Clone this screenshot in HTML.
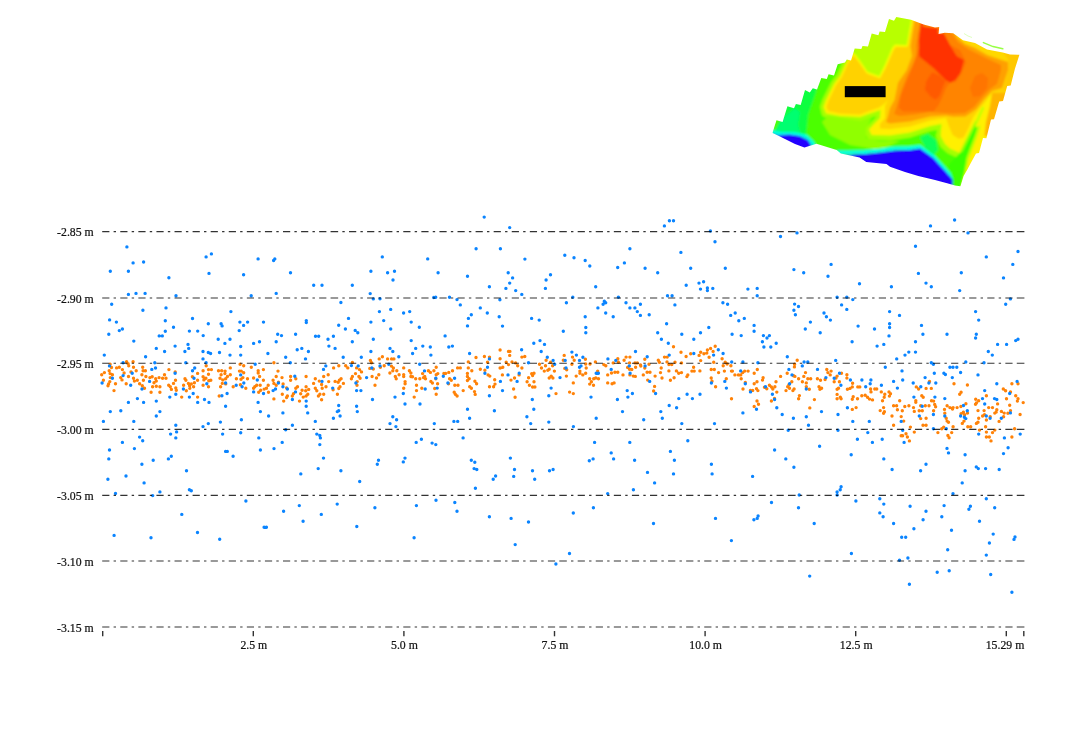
<!DOCTYPE html>
<html><head><meta charset="utf-8"><title>Profile</title>
<style>
html,body{margin:0;padding:0;background:#fff;}
body{width:1080px;height:743px;overflow:hidden;position:relative;font-family:"Liberation Serif",serif;}
svg{position:absolute;left:0;top:0;}
text{font-family:"Liberation Serif",serif;font-size:12.4px;fill:#111;stroke:#111;stroke-width:0.22px;}
</style></head><body>
<svg width="1080" height="743" viewBox="0 0 1080 743">
<defs>
<clipPath id="hmclip"><polygon points="896.3,17.0 911.0,19.7 923.6,24.5 935.0,27.6 939.2,27.0 938.6,34.0 944.7,32.8 953.2,33.3 962.9,40.2 975.0,43.0 987.0,49.5 1002.8,52.5 1010.0,54.5 1019.4,54.8 1015.0,68.5 1010.7,85.4 1007.2,86.0 1003.0,101.0 999.2,101.4 994.0,119.2 991.0,119.6 986.4,138.3 983.0,138.0 979.0,153.0 976.0,153.6 970.8,163.0 967.4,169.5 963.6,176.0 960.4,186.3 955.0,185.5 949.0,183.8 935.0,180.0 918.3,176.0 905.0,172.0 890.0,166.8 886.5,164.0 866.3,162.0 859.6,157.5 840.8,153.5 836.7,150.0 816.5,143.8 811.8,145.2 804.4,147.4 795.0,144.0 780.0,136.6 772.6,133.0 772.9,131.4 776.5,120.3 782.6,122.0 787.4,106.3 794.0,108.2 795.9,103.9 800.7,105.1 805.0,90.0 809.8,92.4 812.8,88.2 817.0,89.4 821.3,77.9 826.8,79.0 828.6,74.2 834.0,75.5 837.7,64.2 845.0,62.4 846.8,59.4 851.0,60.6 854.7,48.5 861.3,49.0 862.5,46.0 868.0,46.4 871.7,33.6 878.4,35.2 879.6,31.6 885.0,32.0 889.0,19.0 894.0,20.8"/></clipPath>
<filter id="hmblur" x="-5%" y="-5%" width="110%" height="110%"><feGaussianBlur stdDeviation="1.1"/></filter>
</defs>
<g clip-path="url(#hmclip)"><g filter="url(#hmblur)">
<polygon points="760.0,0.0 1040.0,0.0 1040.0,200.0 760.0,200.0" fill="#4cff00" />
<polygon points="760.0,140.0 770.0,140.0 790.0,100.0 812.0,84.0 822.0,70.0 815.0,95.0 808.0,115.0 806.0,135.0 815.0,142.0 800.0,150.0 760.0,150.0" fill="#10ff40" />
<polygon points="760.0,150.0 772.0,136.0 783.0,118.0 795.0,108.0 800.0,112.0 798.0,125.0 802.0,137.0 812.0,143.0 800.0,152.0" fill="#00ff70" />
<polygon points="850.0,45.0 855.0,40.0 880.0,10.0 915.0,10.0 911.5,19.7 909.0,34.2 907.0,45.7 895.1,45.1 892.7,47.5 884.2,66.9 879.4,76.5 867.3,71.8 860.0,61.0 853.5,52.0" fill="#b8ff00" />
<polyline points="853.0,53.0 846.5,62.0 840.0,76.0 834.0,84.0 829.5,93.0 826.0,100.0 823.5,107.0 825.0,113.5 840.0,117.0 860.0,118.0 870.0,114.5 880.5,111.0 879.0,119.0 873.0,125.0 868.0,130.0 870.0,136.0 890.0,137.0 910.0,134.0 930.4,127.5 941.5,125.5 939.5,136.0 943.5,145.0 949.0,150.0 960.0,155.0" fill="none" stroke="#a4ff00" stroke-width="7.0" stroke-linejoin="round" stroke-linecap="round" />
<polygon points="828.0,116.0 860.0,121.0 872.0,118.0 866.0,128.0 866.0,138.0 880.0,141.0 900.0,141.0 880.0,150.0 850.0,145.0 830.0,135.0 822.0,122.0" fill="#90ff00" />
<polyline points="770.0,131.5 780.0,133.5 795.0,134.0 806.0,136.5 812.0,142.5 814.0,146.0" fill="none" stroke="#00ffe0" stroke-width="3.6" stroke-linejoin="round" stroke-linecap="round" />
<polygon points="768.0,134.0 778.0,135.0 790.0,134.5 800.0,136.0 808.0,140.0 811.5,145.5 808.0,150.0 790.0,150.0 770.0,140.0" fill="#2200ff" />
<polyline points="838.0,152.5 850.0,152.5 865.0,152.0 880.0,150.5 895.0,148.5 910.0,148.0 920.0,147.0 933.0,156.5 944.0,168.5 953.0,178.5 955.0,186.0" fill="none" stroke="#00ffe0" stroke-width="3.8" stroke-linejoin="round" stroke-linecap="round" />
<polygon points="920.0,137.0 928.0,134.0 936.0,140.0 938.0,150.0 934.0,155.0 925.0,147.5" fill="#10ff58" />
<polygon points="842.0,156.0 855.0,154.5 866.0,154.0 880.0,152.5 895.0,150.5 910.0,150.0 920.0,148.5 933.3,158.0 944.2,170.0 952.7,179.5 952.5,190.0 840.0,190.0" fill="#2200ff" />
<polygon points="853.0,53.0 846.5,62.0 840.0,76.0 834.0,84.0 829.5,93.0 826.0,100.0 823.5,107.0 826.0,113.5 840.0,116.0 860.0,117.0 870.0,113.5 880.5,110.0 880.0,118.0 874.0,124.0 869.0,129.5 871.5,135.0 890.0,135.5 910.0,132.5 930.4,126.0 941.5,124.0 940.6,136.0 945.0,144.0 950.0,148.6 960.0,153.0 962.0,170.0 958.0,190.0 1040.0,190.0 1040.0,10.0 911.5,10.0 911.5,19.7 909.0,34.2 907.0,45.7 895.1,45.1 892.7,47.5 884.2,66.9 879.4,76.5 867.3,71.8 860.0,61.0" fill="#fff000" />
<polygon points="960.0,153.0 964.0,145.0 968.5,137.5 973.0,129.0 976.0,126.0 977.5,128.0 974.5,138.0 970.5,148.0 967.0,158.0 965.0,172.7 961.5,190.0 953.0,190.0 952.7,179.0 948.0,165.0" fill="#38ff00" />
<polyline points="961.5,151.0 966.0,142.0 971.0,132.0 976.0,122.0" fill="none" stroke="#9cff00" stroke-width="2.5" stroke-linejoin="round" stroke-linecap="round" />
<polyline points="976.0,124.0 980.0,114.5 983.0,108.0" fill="none" stroke="#c0ff00" stroke-width="2.4" stroke-linejoin="round" stroke-linecap="round" />
<polyline points="961.8,188.0 965.5,172.0 967.8,158.0 971.5,148.0 976.0,136.0 979.0,127.0" fill="none" stroke="#b8ff00" stroke-width="2.5" stroke-linejoin="round" stroke-linecap="round" />
<polygon points="853.5,55.5 848.0,63.5 842.0,77.0 836.0,85.5 832.0,94.0 828.5,101.0 826.5,107.0 828.5,111.0 840.0,113.5 860.0,114.5 869.0,111.0 879.0,107.5 884.0,104.0 888.0,100.0 890.3,100.0 894.0,82.7 902.4,70.6 908.5,56.0 906.6,47.0 895.8,47.0 894.0,49.5 885.5,68.5 880.0,78.5 867.0,73.8 859.5,63.3" fill="#ffd200" />
<polygon points="912.0,21.0 910.0,34.0 906.0,47.0 905.0,56.0 899.0,70.6 891.0,82.7 888.0,100.0 885.0,106.0 885.0,118.0 880.0,124.0 880.0,128.5 890.0,129.0 910.0,126.5 930.0,120.5 946.0,118.0 949.0,126.6 952.7,135.0 958.8,138.8 963.6,137.5 968.5,127.9 973.3,117.0 980.0,108.0 986.0,101.0 992.0,93.0 1040.0,93.0 1040.0,10.0 912.0,10.0" fill="#ffd200" />
<polygon points="992.0,93.0 1040.0,93.0 1040.0,140.0 984.0,140.0 986.0,122.0 990.0,106.0" fill="#ffb400" />
<polygon points="984.0,136.0 1000.0,136.0 1000.0,190.0 962.0,190.0 966.0,172.0 969.0,158.0 976.0,142.0" fill="#fff000" />
<polygon points="958.0,30.0 1030.0,48.0 1030.0,62.0 1012.0,62.0 1000.0,59.0 987.0,54.5 975.0,47.5 965.0,43.5 957.0,36.0" fill="#ffd800" />
<polygon points="1003.0,52.0 1030.0,52.0 1030.0,90.0 1004.0,90.0 1008.0,70.0 1008.5,60.0" fill="#ffc800" />
<polyline points="911.8,19.7 909.3,34.2 907.3,45.9 895.3,45.3 893.0,47.8 884.6,67.2 879.6,77.0 867.2,72.4 859.8,61.6 853.6,53.0" fill="none" stroke="#f6ff00" stroke-width="1.5" stroke-linejoin="round" stroke-linecap="round" />
<polygon points="914.5,21.5 912.5,34.0 910.5,46.0 912.0,56.0 906.5,70.6 898.0,82.7 894.5,100.0 890.0,108.0 888.0,116.0 886.0,122.0 890.0,123.5 910.0,121.5 930.0,116.5 946.0,115.5 953.0,116.8 965.4,116.5 976.0,109.5 984.0,99.5 992.0,91.0 1002.0,88.0 1008.0,70.0 1008.0,62.0 1000.0,59.5 987.0,55.0 975.0,48.0 965.0,44.0 957.0,37.0 955.0,30.0 914.0,10.0" fill="#ffa000" />
<polygon points="920.0,23.0 917.5,34.0 916.0,46.0 916.5,56.0 912.0,66.0 907.0,76.0 902.0,88.0 898.5,100.0 896.0,108.0 894.0,114.0 900.0,116.0 915.0,114.5 930.0,112.0 944.0,113.0 953.0,113.5 965.0,113.0 974.0,107.0 982.0,97.5 990.0,89.0 997.0,84.0 1001.0,70.0 1001.0,65.0 990.0,60.0 978.0,54.0 968.0,49.0 958.0,42.0 952.0,33.0 935.0,25.0 925.0,22.0" fill="#ff8400" />
<polygon points="918.0,50.0 914.0,63.0 909.2,75.3 900.7,95.9 898.8,108.0 903.2,111.5 933.4,111.5 938.3,105.6 942.0,98.0 946.0,88.0 950.0,82.5 956.0,82.0 962.0,72.0 966.0,62.0 960.0,50.0 940.0,40.0 925.0,40.0" fill="#ff7000" />
<polygon points="975.0,76.0 982.0,73.0 988.0,78.0 987.0,88.0 980.0,96.0 973.0,97.0 970.0,88.0" fill="#ff7400" />
<polygon points="932.2,72.3 926.2,81.3 925.0,89.8 931.0,97.0 935.9,99.5 939.5,95.9 943.1,86.2 945.5,81.0 940.0,76.0" fill="#ff5a00" />
<polygon points="922.5,24.5 923.0,26.4 938.7,28.2 937.5,33.0 944.0,33.5 950.0,45.0 956.8,56.3 964.0,60.0 962.5,66.0 960.4,73.3 955.3,80.0 950.4,82.7 945.6,80.0 933.4,68.0 919.2,56.5 918.8,40.3 920.0,30.0 921.0,22.0 930.0,20.0 940.0,22.0" fill="#ff3300" />
</g></g>
<polyline points="983.4,42.6 993,46.6 1002.8,48.8" fill="none" stroke="#86ff24" stroke-width="1.5" stroke-linecap="round" opacity="0.85"/>
<polyline points="964,33.5 968,36 972,37.5" fill="none" stroke="#b8ff70" stroke-width="0.9" opacity="0.5"/>
<rect x="844.8" y="86.1" width="40.8" height="11.1" fill="#000"/>
<g id="pts">
<path d="M101.7 374.7h0M104.4 372.6h0M103.4 380.3h0M110.1 364.2h0M109.2 370.7h0M111.5 367.5h0M110.1 373.6h0M112.4 374.7h0M110.3 377.6h0M109.8 381.6h0M108.6 383.9h0M108.0 385.7h0M115.5 383.7h0M114.0 390.6h0M116.6 367.9h0M119.3 367.3h0M122.4 369.6h0M124.1 373.0h0M120.7 377.6h0M122.0 379.9h0M126.6 361.8h0M128.1 363.8h0M128.7 365.8h0M128.5 376.5h0M126.2 383.7h0M131.0 371.9h0M133.1 361.8h0M133.5 367.3h0M136.2 370.7h0M133.5 378.2h0M134.4 381.1h0M137.3 380.3h0M139.6 383.7h0M142.7 367.3h0M143.1 370.7h0M145.4 370.7h0M141.9 374.7h0M145.9 376.5h0M143.4 380.3h0M142.3 385.7h0M144.5 388.3h0M149.9 377.6h0M152.2 376.8h0M151.1 392.2h0M152.6 386.8h0M154.0 382.8h0M155.7 378.8h0M156.3 381.1h0M156.3 386.2h0M159.1 377.6h0M159.9 386.8h0M159.9 392.2h0M162.6 378.2h0M164.5 374.7h0M166.0 378.2h0M168.9 369.6h0M168.7 385.3h0M170.3 386.8h0M171.4 389.4h0M173.5 383.4h0M175.2 371.9h0M175.5 380.3h0M175.8 387.9h0M176.3 390.2h0M181.7 397.1h0M183.6 385.3h0M185.0 378.8h0M185.9 380.3h0M186.3 390.8h0M188.4 383.4h0M189.6 385.7h0M189.8 388.3h0M191.3 383.9h0M192.4 376.8h0M193.6 386.8h0M194.4 382.8h0M197.6 373.4h0M197.6 380.3h0M197.6 397.1h0M203.1 370.7h0M203.1 376.8h0M203.9 379.9h0M203.1 385.3h0M206.2 365.8h0M205.9 378.2h0M208.5 369.6h0M208.5 374.2h0M208.8 380.7h0M208.5 386.8h0M210.8 380.3h0M211.4 369.6h0M218.5 370.7h0M221.7 370.7h0M221.1 374.7h0M220.0 378.2h0M222.8 379.9h0M222.3 383.4h0M220.6 386.8h0M219.2 396.0h0M225.1 371.1h0M224.9 373.6h0M227.4 376.5h0M225.7 378.8h0M230.3 367.9h0M230.3 374.7h0M225.7 383.9h0M233.2 386.8h0M236.4 378.8h0M240.1 364.2h0M239.5 371.1h0M241.2 371.1h0M243.7 365.8h0M243.7 372.7h0M242.9 377.6h0M241.0 379.3h0M240.4 384.8h0M247.5 378.8h0M245.8 388.3h0M251.3 367.3h0M253.6 378.0h0M258.2 370.7h0M258.2 373.0h0M259.6 376.5h0M263.4 369.6h0M263.4 380.3h0M254.8 386.8h0M256.7 385.3h0M253.6 388.3h0M260.2 385.3h0M260.7 390.2h0M258.7 392.2h0M264.2 389.1h0M266.5 388.3h0M268.2 385.3h0M268.5 392.2h0M273.9 362.7h0M278.0 371.1h0M276.2 376.5h0M273.1 380.3h0M273.9 383.4h0M276.2 385.3h0M278.5 382.2h0M282.0 377.6h0M283.1 383.9h0M286.6 387.9h0M273.9 398.9h0M282.3 394.3h0M283.7 401.1h0M287.4 396.0h0M286.6 397.5h0M290.6 376.5h0M290.6 380.3h0M295.8 378.8h0M297.5 386.8h0M295.8 388.3h0M293.5 393.7h0M292.3 396.0h0M299.5 401.1h0M302.1 390.2h0M300.7 393.7h0M303.2 397.1h0M306.1 376.5h0M306.1 386.8h0M308.7 389.4h0M305.7 390.8h0M307.8 394.3h0M306.1 396.0h0M315.3 378.8h0M313.6 383.4h0M319.3 381.1h0M315.3 388.3h0M316.8 390.8h0M321.6 384.5h0M322.2 388.3h0M326.0 386.8h0M319.9 394.3h0M318.4 396.0h0M323.7 394.3h0M321.6 399.8h0M323.7 376.5h0M328.2 374.7h0M328.7 381.6h0M333.6 367.9h0M338.8 365.8h0M345.7 365.8h0M347.8 367.9h0M335.1 381.4h0M341.1 378.8h0M339.4 380.3h0M338.2 382.2h0M343.4 383.4h0M340.0 386.8h0M338.8 388.5h0M333.1 389.7h0M337.4 394.3h0M352.4 362.5h0M356.6 367.9h0M355.5 373.6h0M352.4 376.5h0M351.4 378.8h0M359.5 369.6h0M361.5 371.9h0M358.9 376.5h0M360.1 378.2h0M357.2 381.6h0M357.0 385.3h0M370.4 360.4h0M371.5 362.7h0M369.8 368.4h0M373.3 369.0h0M372.1 376.5h0M376.5 378.0h0M378.8 374.7h0M375.0 385.3h0M379.2 358.9h0M382.4 356.7h0M380.4 367.3h0M384.2 365.8h0M387.6 358.9h0M391.6 358.9h0M393.9 358.9h0M391.4 366.1h0M393.4 367.9h0M392.8 370.7h0M389.9 373.0h0M396.8 370.7h0M399.1 374.7h0M395.3 376.5h0M396.2 378.8h0M403.7 367.9h0M403.7 374.7h0M403.7 376.5h0M405.1 381.6h0M405.1 383.7h0M403.7 388.3h0M409.4 370.7h0M410.9 373.0h0M410.9 376.5h0M412.5 376.8h0M415.7 378.8h0M416.5 385.3h0M416.5 390.6h0M414.2 397.1h0M419.8 378.8h0M422.6 373.6h0M423.5 377.6h0M425.5 378.8h0M424.7 376.5h0M421.8 388.3h0M428.4 370.7h0M430.4 372.4h0M430.9 381.4h0M432.4 383.0h0M433.9 370.7h0M436.2 367.3h0M437.8 373.6h0M436.2 374.7h0M435.8 378.8h0M437.6 383.7h0M434.7 388.5h0M436.2 394.3h0M443.9 373.4h0M445.6 373.4h0M448.8 372.4h0M452.5 370.7h0M449.6 378.8h0M451.3 380.3h0M448.5 383.7h0M454.8 385.3h0M458.0 385.3h0M457.6 367.9h0M460.3 367.9h0M454.2 392.2h0M455.3 394.3h0M457.1 396.0h0M463.2 390.6h0M468.3 361.9h0M468.3 367.9h0M467.4 373.4h0M467.4 376.5h0M469.1 378.8h0M467.4 380.5h0M469.7 386.8h0M471.4 388.3h0M471.8 370.7h0M476.0 357.5h0M484.4 356.5h0M489.5 357.1h0M487.5 362.3h0M480.3 369.2h0M484.9 370.3h0M488.1 374.9h0M489.8 376.1h0M474.9 381.2h0M476.6 383.8h0M474.5 391.6h0M475.2 394.4h0M494.7 379.8h0M495.0 384.1h0M489.5 386.7h0M493.6 386.7h0M500.1 350.0h0M500.1 358.8h0M500.1 368.0h0M502.8 367.2h0M502.4 374.9h0M506.2 362.3h0M508.5 364.6h0M508.5 351.4h0M509.9 351.4h0M509.7 355.4h0M512.0 361.9h0M515.6 362.9h0M517.7 365.7h0M521.9 368.0h0M519.1 374.9h0M514.5 378.0h0M511.0 380.1h0M513.6 389.0h0M515.1 397.3h0M521.9 357.1h0M524.8 356.5h0M531.7 373.8h0M534.0 373.2h0M532.6 375.5h0M528.6 377.8h0M527.1 381.8h0M534.0 381.8h0M529.4 385.2h0M532.6 387.0h0M534.9 387.0h0M539.5 364.2h0M541.5 368.0h0M544.3 371.1h0M545.5 365.7h0M547.8 370.3h0M549.2 369.2h0M546.1 360.3h0M550.6 362.3h0M552.6 365.7h0M554.4 371.1h0M551.2 376.1h0M549.2 378.0h0M552.9 378.0h0M556.0 393.6h0M564.2 355.4h0M563.3 360.3h0M564.8 368.4h0M566.7 369.7h0M566.4 376.1h0M572.5 357.1h0M574.2 360.3h0M571.9 364.2h0M573.3 382.9h0M569.6 392.1h0M573.3 393.6h0M576.2 376.1h0M579.9 371.1h0M579.9 373.2h0M582.8 374.9h0M585.7 373.2h0M586.2 368.0h0M585.7 364.0h0M585.4 359.2h0M590.0 364.0h0M595.4 361.9h0M589.7 378.7h0M593.7 378.7h0M595.8 378.0h0M591.4 381.8h0M589.7 384.1h0M593.5 385.2h0M603.8 364.6h0M605.8 365.7h0M597.7 371.1h0M598.5 378.7h0M607.7 374.9h0M607.7 382.9h0M612.1 383.8h0M614.1 382.9h0M611.5 373.0h0M614.9 372.3h0M617.8 372.3h0M613.2 362.9h0M617.8 358.8h0M618.4 362.3h0M623.0 374.9h0M624.1 360.3h0M626.1 357.1h0M629.9 357.1h0M629.5 362.9h0M627.6 367.4h0M629.5 369.2h0M631.8 369.5h0M635.6 367.2h0M635.0 362.9h0M637.3 362.9h0M640.5 364.9h0M640.8 366.1h0M629.9 374.9h0M633.3 376.1h0M635.3 376.4h0M643.3 374.9h0M644.8 359.2h0M644.8 368.0h0M647.1 372.3h0M650.0 372.3h0M649.0 364.2h0M647.7 380.1h0M655.1 376.1h0M654.6 386.4h0M653.6 391.0h0M658.3 360.3h0M659.4 362.3h0M661.2 368.0h0M660.5 372.6h0M662.0 378.0h0M664.5 357.1h0M667.2 357.1h0M667.0 361.9h0M668.9 364.6h0M671.8 364.6h0M668.9 370.9h0M670.4 380.3h0M674.1 377.8h0M673.5 346.8h0M675.0 362.3h0M676.4 370.9h0M678.7 373.2h0M681.5 372.6h0M681.5 362.9h0M681.0 352.3h0M686.1 356.5h0M690.7 353.7h0M687.8 374.9h0M686.9 376.6h0M693.6 367.2h0M691.9 371.1h0M694.2 371.1h0M699.9 370.9h0M700.7 360.6h0M699.1 355.4h0M700.7 352.3h0M703.9 353.7h0M706.8 353.1h0M707.4 350.0h0M710.6 348.5h0M715.2 346.2h0M713.1 351.4h0M709.1 357.3h0M713.7 362.3h0M711.2 369.5h0M714.3 369.5h0M718.6 372.6h0M711.2 378.0h0M712.0 381.2h0M715.6 386.7h0M722.1 358.8h0M725.2 362.3h0M723.2 365.7h0M727.1 364.0h0M730.9 365.7h0M724.4 371.1h0M731.5 371.1h0M732.4 371.1h0M734.9 374.9h0M738.4 374.9h0M740.7 374.9h0M742.7 372.6h0M744.7 371.1h0M748.1 371.1h0M741.2 378.7h0M726.3 378.7h0M754.2 373.2h0M757.3 369.5h0M763.1 377.8h0M762.5 380.1h0M757.0 381.8h0M754.2 383.8h0M745.3 382.4h0M743.0 389.0h0M750.4 390.4h0M752.7 390.4h0M756.5 388.7h0M757.9 390.6h0M731.5 398.7h0M757.0 401.0h0M758.5 404.2h0M754.2 406.5h0M764.5 387.2h0M766.8 388.7h0M769.4 385.2h0M771.4 387.0h0M772.8 389.0h0M774.9 386.7h0M776.0 381.8h0M776.8 392.1h0M771.4 401.0h0M774.5 398.4h0M780.6 376.4h0M787.2 373.2h0M794.9 376.4h0M793.5 375.7h0M791.8 381.8h0M788.9 384.7h0M787.7 386.7h0M789.5 388.3h0M786.0 390.6h0M792.9 390.6h0M794.1 389.0h0M794.4 366.9h0M794.6 364.2h0M797.2 360.3h0M798.6 378.7h0M802.4 381.8h0M803.8 376.4h0M805.5 372.6h0M807.8 378.7h0M810.7 378.7h0M806.3 382.9h0M806.3 386.7h0M809.3 389.3h0M799.4 395.6h0M798.6 398.7h0M809.8 407.9h0M814.4 399.6h0M817.4 378.7h0M820.5 380.3h0M819.0 386.7h0M821.6 388.3h0M819.9 389.3h0M825.1 379.5h0M826.8 369.5h0M827.9 372.6h0M831.1 371.1h0M830.2 374.9h0M834.2 381.8h0M836.0 378.0h0M837.1 376.1h0M841.5 373.2h0M839.4 381.8h0M838.5 388.3h0M837.1 389.3h0M837.1 394.4h0M837.1 398.7h0M840.3 397.3h0M841.1 398.7h0M846.9 374.7h0M846.9 378.1h0M852.6 383.3h0M852.3 386.9h0M850.0 388.4h0M847.4 389.2h0M857.8 386.9h0M859.8 386.9h0M853.2 396.8h0M852.3 399.3h0M857.5 398.8h0M861.8 395.7h0M865.2 395.3h0M867.5 397.3h0M869.5 399.1h0M872.5 399.9h0M852.3 409.4h0M856.1 407.6h0M870.6 389.0h0M871.0 391.9h0M874.8 389.0h0M876.7 389.0h0M881.3 391.9h0M884.8 394.2h0M884.2 397.3h0M882.5 400.7h0M889.0 391.9h0M890.5 393.8h0M889.4 396.1h0M883.6 407.6h0M880.2 410.6h0M884.4 411.7h0M883.6 413.3h0M892.0 416.0h0M893.6 425.2h0M893.6 405.7h0M896.6 405.7h0M897.4 409.7h0M899.7 400.7h0M902.3 410.8h0M904.8 406.5h0M908.9 405.7h0M901.2 416.6h0M903.7 421.1h0M910.4 427.1h0M901.2 435.7h0M902.6 435.7h0M906.0 433.8h0M907.4 437.0h0M909.4 440.9h0M914.3 432.1h0M913.5 407.6h0M914.3 411.4h0M915.8 400.7h0M915.8 402.2h0M916.3 386.9h0M918.6 389.0h0M921.8 395.7h0M923.2 397.3h0M920.7 405.7h0M919.2 410.8h0M922.3 410.8h0M925.3 405.7h0M929.0 405.7h0M920.7 418.6h0M926.1 418.3h0M923.0 425.2h0M926.1 425.2h0M926.1 388.4h0M931.3 388.4h0M929.5 381.5h0M931.5 400.7h0M933.6 401.1h0M934.7 404.5h0M935.6 406.8h0M933.6 410.8h0M944.5 409.4h0M944.8 413.3h0M947.1 405.7h0M949.9 407.6h0M952.5 409.1h0M953.1 407.6h0M957.1 407.6h0M960.9 406.5h0M965.9 403.7h0M946.2 418.3h0M947.1 421.1h0M948.5 422.3h0M943.7 427.1h0M941.8 428.8h0M937.9 432.6h0M953.1 426.7h0M951.7 432.6h0M947.9 435.5h0M949.1 437.8h0M954.0 383.8h0M961.1 392.2h0M959.7 394.2h0M967.4 385.0h0M963.4 412.2h0M961.1 413.7h0M964.6 414.8h0M964.0 421.1h0M962.3 423.4h0M967.8 426.7h0M967.5 413.1h0M970.7 426.7h0M975.7 399.3h0M978.7 400.7h0M976.4 403.0h0M975.5 404.2h0M978.0 410.6h0M978.7 418.3h0M978.0 422.3h0M976.4 423.4h0M979.5 430.1h0M986.4 395.7h0M984.1 410.6h0M988.7 407.6h0M992.5 407.6h0M982.6 416.0h0M984.5 414.8h0M990.2 416.6h0M986.4 420.0h0M985.6 426.7h0M986.4 432.1h0M986.4 437.0h0M989.3 437.0h0M991.0 440.9h0M992.5 432.6h0M994.8 430.1h0M997.6 403.9h0M996.8 409.7h0M996.2 412.0h0M994.8 413.1h0M999.1 421.4h0M1001.4 411.4h0M1004.2 413.1h0M1003.6 416.8h0M1007.9 413.3h0M1010.5 410.6h0M1009.7 405.3h0M1006.5 398.8h0M1003.3 389.0h0M1005.6 390.7h0M1010.5 391.9h0M1011.9 383.8h0M1018.0 383.8h0M1015.7 395.7h0M1018.0 398.8h0M1017.4 401.1h0M1023.2 402.6h0M1020.1 414.5h0M1014.6 428.8h0M1011.9 437.0h0" stroke="#ff8208" stroke-width="3.40" stroke-linecap="round" fill="none"/>
<path d="M126.9 246.9h0M211.4 253.9h0M206.1 256.9h0M258.1 258.9h0M274.8 258.9h0M273.6 260.5h0M133.1 262.9h0M143.6 262.0h0M110.3 271.2h0M128.4 271.3h0M209.0 273.4h0M243.6 274.8h0M168.9 277.7h0M128.4 294.4h0M136.0 293.4h0M145.1 293.4h0M276.2 293.4h0M176.0 295.8h0M251.2 295.8h0M111.7 304.2h0M166.0 307.9h0M142.9 310.3h0M230.9 311.6h0M192.5 318.5h0M109.6 319.9h0M116.4 322.1h0M165.3 320.8h0M208.3 323.7h0M221.1 323.7h0M222.1 325.9h0M239.9 322.1h0M247.6 322.1h0M263.5 322.1h0M243.6 325.4h0M173.5 327.3h0M122.4 329.0h0M119.3 330.6h0M165.3 331.3h0M189.4 331.1h0M197.7 331.1h0M239.2 330.6h0M108.8 334.2h0M159.2 335.9h0M162.3 335.9h0M203.2 335.6h0M277.7 334.2h0M281.5 335.6h0M382.3 256.9h0M427.7 258.9h0M290.5 272.7h0M370.9 271.2h0M387.6 272.7h0M394.5 271.2h0M438.1 272.7h0M467.5 276.3h0M393.0 280.0h0M313.7 285.3h0M322.0 285.3h0M352.3 285.3h0M370.2 293.6h0M373.3 298.9h0M380.0 298.7h0M433.8 297.5h0M435.7 297.3h0M449.5 297.3h0M457.0 299.6h0M340.9 302.5h0M460.3 304.9h0M379.4 311.6h0M390.7 309.4h0M403.6 313.0h0M409.7 311.6h0M471.3 314.7h0M348.5 318.4h0M468.4 318.4h0M306.3 320.6h0M306.3 322.5h0M370.9 322.1h0M383.7 320.6h0M411.2 322.1h0M338.7 325.2h0M467.5 325.9h0M419.3 327.3h0M345.4 329.0h0M390.7 329.0h0M355.2 330.4h0M357.8 332.7h0M295.6 334.2h0M445.1 335.9h0M315.5 336.3h0M318.7 336.3h0M333.4 336.3h0M484.2 217.1h0M509.7 227.6h0M476.1 248.8h0M500.4 248.8h0M629.9 248.8h0M564.8 255.3h0M574.0 257.7h0M524.9 259.1h0M585.2 260.5h0M589.8 266.0h0M624.4 262.9h0M617.7 267.5h0M645.1 268.2h0M657.7 272.7h0M508.2 272.7h0M512.6 277.9h0M550.5 274.8h0M546.1 280.0h0M509.7 283.1h0M489.4 286.8h0M505.9 288.4h0M545.4 288.4h0M595.7 286.8h0M515.7 290.6h0M521.8 294.4h0M572.8 297.3h0M618.4 297.3h0M499.9 299.8h0M566.4 302.7h0M604.3 301.3h0M605.7 302.7h0M603.1 304.2h0M626.0 302.7h0M640.4 304.2h0M480.3 307.9h0M597.9 307.9h0M629.9 307.9h0M634.9 307.9h0M487.3 313.0h0M605.7 313.0h0M637.3 311.6h0M640.4 315.4h0M649.2 314.7h0M499.2 316.8h0M585.2 316.8h0M613.2 316.8h0M531.6 318.4h0M539.2 320.1h0M502.5 326.1h0M585.8 327.5h0M563.3 331.3h0M585.8 332.7h0M657.7 332.7h0M669.4 220.7h0M673.5 220.7h0M664.4 225.9h0M710.4 231.0h0M797.0 232.9h0M780.5 236.5h0M715.0 241.7h0M680.9 252.4h0M831.1 264.4h0M690.7 268.2h0M725.3 268.2h0M793.9 269.6h0M803.7 272.7h0M828.0 276.3h0M703.6 281.7h0M699.0 283.1h0M686.2 285.3h0M700.5 289.1h0M707.4 288.0h0M707.4 290.6h0M712.8 288.4h0M747.9 289.1h0M757.2 288.4h0M667.5 295.8h0M672.1 295.8h0M757.2 295.8h0M837.1 297.3h0M674.9 304.9h0M722.9 302.7h0M727.6 304.2h0M794.6 304.1h0M798.5 306.5h0M841.6 304.9h0M793.9 310.3h0M735.2 313.0h0M824.0 313.0h0M730.7 315.4h0M795.4 314.7h0M826.4 316.8h0M744.3 318.4h0M738.8 320.8h0M830.4 320.1h0M666.6 323.7h0M810.4 322.1h0M754.1 325.4h0M708.8 327.5h0M805.3 329.0h0M754.1 331.3h0M700.5 332.7h0M820.2 332.7h0M681.8 334.2h0M732.1 334.2h0M741.2 335.6h0M763.4 335.6h0M769.4 335.6h0M954.6 220.0h0M930.5 225.9h0M968.0 232.9h0M915.5 246.2h0M1018.0 251.5h0M986.3 256.9h0M1012.8 264.4h0M918.4 273.4h0M961.3 272.7h0M1003.5 277.9h0M859.5 283.7h0M926.0 283.1h0M891.4 286.8h0M931.3 286.8h0M959.7 290.6h0M846.8 297.3h0M852.8 299.6h0M1010.4 298.9h0M1005.7 304.2h0M846.8 309.4h0M889.6 311.6h0M975.6 311.6h0M899.5 315.4h0M978.7 320.1h0M889.6 323.7h0M921.5 325.4h0M858.1 326.1h0M889.6 327.5h0M874.5 329.0h0M922.9 334.2h0M947.0 334.2h0M976.3 334.2h0M889.0 335.9h0M141.9 464.3h0M186.5 470.8h0M126.0 476.0h0M107.9 479.3h0M144.1 482.9h0M189.4 489.8h0M191.3 490.7h0M115.5 493.4h0M159.9 491.9h0M152.7 495.6h0M245.9 501.0h0M283.6 511.3h0M181.8 514.4h0M264.1 527.3h0M266.4 527.3h0M197.5 532.5h0M114.1 535.4h0M151.0 537.8h0M219.7 539.2h0M377.3 464.3h0M318.2 468.6h0M340.9 470.8h0M300.8 473.9h0M359.7 481.5h0M436.0 500.3h0M454.8 502.5h0M299.3 505.6h0M337.2 504.1h0M416.4 505.6h0M374.9 507.7h0M457.0 511.3h0M321.3 514.4h0M303.1 521.3h0M356.8 526.5h0M414.1 537.8h0M474.1 468.6h0M476.8 469.5h0M514.5 469.5h0M532.5 470.8h0M549.5 470.8h0M553.1 469.5h0M647.5 472.4h0M495.6 476.0h0M513.7 476.4h0M493.2 479.3h0M534.7 479.3h0M654.6 482.9h0M475.4 488.2h0M633.4 489.8h0M607.7 493.6h0M593.4 507.7h0M573.3 513.0h0M489.4 516.7h0M511.1 518.4h0M528.5 522.0h0M653.5 523.5h0M515.2 544.6h0M569.5 553.5h0M555.9 564.0h0M711.4 464.3h0M793.9 467.2h0M673.5 473.9h0M712.1 473.9h0M752.6 476.4h0M841.1 486.7h0M840.2 489.8h0M837.1 492.0h0M837.1 495.0h0M799.2 495.0h0M771.5 502.5h0M798.5 507.7h0M715.5 518.4h0M758.1 516.0h0M757.2 518.4h0M753.9 519.8h0M814.2 523.5h0M731.4 540.6h0M809.7 576.1h0M926.0 464.3h0M976.3 466.9h0M978.3 468.6h0M985.6 468.6h0M999.2 469.5h0M892.1 469.5h0M920.6 470.8h0M965.1 470.8h0M962.2 482.9h0M953.0 493.6h0M855.9 501.0h0M879.8 498.7h0M986.3 498.7h0M883.8 504.1h0M910.1 506.3h0M944.1 505.6h0M970.4 506.3h0M968.9 509.3h0M994.7 507.7h0M926.0 511.3h0M879.8 512.9h0M883.1 516.7h0M941.8 516.7h0M923.1 519.8h0M979.5 521.3h0M893.6 523.5h0M913.9 528.7h0M951.5 530.3h0M993.2 534.1h0M1015.0 537.0h0M1014.0 539.4h0M901.7 537.2h0M905.7 537.2h0M989.4 543.0h0M947.7 549.7h0M851.4 553.5h0M986.3 555.1h0M907.9 558.0h0M899.5 560.2h0M937.2 572.3h0M949.2 570.7h0M990.7 574.5h0M909.4 584.3h0M1011.9 592.3h0M133.8 341.1h0M218.2 339.2h0M230.0 339.2h0M224.9 343.4h0M253.6 343.4h0M259.5 341.8h0M276.2 341.8h0M175.1 346.1h0M188.0 344.4h0M188.7 348.4h0M240.7 346.5h0M156.3 348.4h0M164.6 351.5h0M184.9 351.5h0M203.0 351.5h0M208.3 352.5h0M210.6 353.5h0M219.5 352.5h0M230.0 355.1h0M240.7 355.1h0M267.9 353.5h0M104.3 355.1h0M145.6 356.8h0M203.0 358.9h0M285.7 357.3h0M123.1 362.7h0M154.8 362.7h0M185.8 362.7h0M206.1 362.7h0M255.2 364.2h0M109.5 365.9h0M155.5 368.0h0M151.8 369.4h0M194.7 368.0h0M192.5 370.7h0M132.2 373.2h0M175.1 373.2h0M123.1 375.6h0M240.7 374.9h0M112.4 378.3h0M194.0 378.3h0M257.3 380.0h0M102.1 383.0h0M149.6 381.4h0M206.8 383.7h0M225.6 383.0h0M278.4 383.0h0M243.8 383.0h0M130.7 385.2h0M236.2 385.2h0M242.1 386.8h0M282.9 386.8h0M142.0 389.0h0M183.4 389.0h0M275.5 389.0h0M273.1 390.6h0M253.6 391.9h0M227.1 393.5h0M263.5 393.5h0M193.2 393.5h0M175.8 394.3h0M221.9 395.7h0M169.8 397.1h0M189.4 397.1h0M137.4 398.6h0M204.5 399.5h0M156.3 401.1h0M128.4 402.4h0M143.6 402.4h0M197.7 402.4h0M209.0 402.4h0M258.1 402.4h0M225.6 406.2h0M110.3 411.6h0M120.8 410.7h0M159.9 411.6h0M260.4 411.6h0M282.9 412.9h0M156.3 416.0h0M268.6 416.0h0M103.4 421.4h0M133.8 421.4h0M220.4 422.1h0M241.4 419.8h0M208.3 423.6h0M175.8 425.2h0M203.0 426.6h0M285.7 429.7h0M176.6 431.9h0M240.7 432.8h0M170.6 434.1h0M222.6 434.1h0M139.6 437.1h0M175.8 437.9h0M258.8 437.9h0M142.7 440.8h0M122.4 442.4h0M282.2 442.4h0M134.4 448.6h0M109.5 450.0h0M260.4 450.0h0M274.0 448.6h0M225.6 451.4h0M227.3 451.4h0M171.3 456.3h0M233.1 456.3h0M108.8 458.9h0M168.4 458.9h0M153.2 460.3h0M328.0 339.2h0M373.3 339.2h0M411.2 340.6h0M352.3 341.8h0M328.9 346.1h0M335.1 348.4h0M422.8 346.1h0M430.3 347.0h0M448.8 347.0h0M452.4 346.1h0M297.2 349.7h0M301.8 348.4h0M390.0 348.4h0M415.7 348.4h0M308.4 351.5h0M370.9 351.5h0M392.8 351.5h0M412.6 353.5h0M430.9 355.1h0M469.6 353.5h0M305.5 358.9h0M343.2 357.3h0M361.3 357.3h0M398.8 356.8h0M290.3 362.7h0M325.8 365.9h0M351.4 365.6h0M358.2 365.9h0M388.8 364.2h0M380.0 365.9h0M419.7 364.2h0M323.5 369.4h0M371.8 368.0h0M424.5 370.9h0M294.8 376.3h0M366.6 377.6h0M443.3 376.3h0M435.8 378.3h0M454.6 378.3h0M322.0 381.4h0M355.9 383.0h0M447.9 383.0h0M287.4 389.0h0M332.7 388.1h0M425.2 389.0h0M437.2 388.1h0M295.5 391.9h0M356.6 390.6h0M360.9 390.6h0M403.3 393.5h0M395.0 397.1h0M292.4 399.5h0M372.5 399.5h0M306.2 401.1h0M405.0 404.0h0M420.0 404.0h0M306.2 406.2h0M338.7 405.5h0M356.6 406.2h0M467.5 409.3h0M338.7 410.7h0M337.3 411.6h0M357.3 411.6h0M307.7 412.9h0M340.1 416.0h0M392.8 416.7h0M333.4 418.3h0M396.6 419.8h0M469.6 418.3h0M315.3 421.4h0M453.9 421.4h0M457.7 421.4h0M390.0 423.6h0M434.3 423.6h0M292.4 425.2h0M395.9 426.6h0M316.8 434.1h0M319.8 435.5h0M320.4 437.9h0M463.1 437.9h0M421.4 439.3h0M416.2 442.4h0M432.1 443.1h0M435.8 444.6h0M319.8 444.6h0M323.5 458.1h0M405.0 458.1h0M378.5 460.3h0M403.3 461.9h0M471.3 460.3h0M540.0 340.6h0M533.8 343.2h0M544.5 344.4h0M521.6 349.7h0M541.2 351.5h0M635.5 351.5h0M571.9 352.1h0M576.4 355.1h0M489.4 358.9h0M547.3 357.3h0M582.9 357.3h0M607.9 358.9h0M647.2 356.8h0M553.1 360.4h0M565.2 360.4h0M579.5 360.4h0M615.8 360.4h0M528.5 362.7h0M554.7 364.2h0M581.0 365.9h0M579.5 367.3h0M487.5 367.3h0M566.0 368.0h0M645.1 365.9h0M629.3 365.9h0M611.2 369.4h0M484.9 373.2h0M508.0 374.9h0M519.2 373.2h0M596.2 373.2h0M598.4 373.2h0M630.1 373.2h0M560.0 377.6h0M500.4 381.4h0M517.1 381.4h0M649.7 381.4h0M551.1 388.1h0M502.5 390.6h0M627.2 390.6h0M632.4 393.5h0M655.6 393.5h0M489.4 395.7h0M548.8 395.7h0M591.0 397.1h0M627.9 397.1h0M532.3 399.5h0M617.4 399.5h0M533.8 409.3h0M494.4 410.7h0M622.5 411.6h0M526.9 416.7h0M596.2 418.3h0M643.7 419.8h0M548.8 422.1h0M530.7 423.6h0M573.4 426.6h0M594.6 442.4h0M629.8 442.4h0M611.2 452.9h0M510.4 458.1h0M593.1 458.9h0M613.6 458.9h0M589.3 460.7h0M634.6 460.3h0M474.8 462.2h0M661.4 339.2h0M693.8 339.2h0M767.0 338.0h0M762.4 341.8h0M668.3 343.2h0M776.2 343.2h0M763.9 347.0h0M770.8 347.0h0M718.3 349.7h0M693.8 353.5h0M723.1 353.5h0M669.2 355.1h0M713.6 355.1h0M787.3 356.8h0M835.7 360.4h0M731.7 362.0h0M742.9 362.0h0M757.9 362.7h0M804.1 362.0h0M807.8 362.0h0M802.3 365.9h0M788.9 369.4h0M817.5 369.4h0M740.7 370.9h0M839.5 373.2h0M792.0 374.9h0M825.9 377.6h0M834.2 378.3h0M711.4 383.0h0M724.8 381.4h0M745.3 383.7h0M789.6 383.7h0M840.9 385.2h0M726.4 388.1h0M765.5 386.8h0M806.3 389.0h0M750.5 391.9h0M772.4 394.3h0M687.1 394.3h0M700.0 394.3h0M678.8 398.6h0M692.4 398.6h0M774.6 399.5h0M669.2 405.5h0M676.6 407.8h0M776.8 407.8h0M756.5 409.3h0M660.8 411.6h0M742.9 412.9h0M821.5 411.6h0M782.2 414.5h0M838.0 414.5h0M806.3 416.7h0M662.3 418.3h0M793.4 418.3h0M681.8 423.6h0M714.5 423.6h0M808.5 425.2h0M788.2 430.3h0M838.0 430.3h0M687.8 440.8h0M819.6 446.2h0M670.4 451.4h0M774.6 450.0h0M785.8 458.9h0M674.4 460.3h0M975.6 338.0h0M852.1 341.8h0M915.5 341.8h0M1018.0 339.2h0M1015.7 340.6h0M883.8 344.4h0M877.1 346.1h0M997.6 344.4h0M1006.6 344.4h0M988.3 351.5h0M908.8 352.1h0M915.5 352.1h0M905.0 355.1h0M992.3 355.1h0M896.7 358.9h0M931.3 362.7h0M933.4 364.2h0M965.8 362.0h0M984.0 362.7h0M885.3 367.3h0M949.9 367.3h0M953.0 367.3h0M956.8 367.3h0M902.0 370.9h0M934.3 373.2h0M943.9 373.2h0M945.4 374.5h0M960.6 372.5h0M978.0 374.9h0M925.1 377.6h0M952.3 377.6h0M850.4 380.0h0M861.9 380.0h0M870.9 380.0h0M902.7 380.0h0M893.6 381.4h0M913.2 383.0h0M928.9 383.0h0M935.8 383.0h0M1017.1 381.4h0M870.2 383.7h0M996.8 383.7h0M881.4 385.2h0M865.7 386.8h0M920.8 386.8h0M897.4 388.1h0M984.7 390.6h0M1009.7 393.5h0M913.9 397.1h0M934.9 397.1h0M944.8 398.6h0M982.5 398.6h0M994.5 398.6h0M996.8 399.5h0M984.7 404.0h0M847.4 407.8h0M922.2 406.2h0M963.5 405.5h0M967.3 410.7h0M933.4 414.5h0M919.3 416.0h0M944.8 416.0h0M960.6 416.0h0M964.4 417.3h0M965.8 418.6h0M986.3 416.0h0M1010.4 412.9h0M990.1 418.3h0M1001.3 418.3h0M852.8 421.4h0M869.3 421.4h0M901.2 421.4h0M933.4 428.8h0M946.3 428.8h0M902.7 430.3h0M867.8 432.6h0M978.7 434.1h0M1020.2 434.1h0M857.4 439.3h0M882.2 439.3h0M1004.4 437.9h0M872.4 442.4h0M904.1 442.4h0M947.0 448.4h0M1008.1 447.7h0M948.5 452.9h0M1003.5 453.6h0M851.2 454.8h0M965.1 454.8h0M883.8 458.9h0" stroke="#0a84ff" stroke-width="3.40" stroke-linecap="round" fill="none"/>
</g>
<g id="grid" stroke="#000" stroke-opacity="0.800" stroke-width="1.1" fill="none">
<path d="M102.20 231.60H330.95M330.95 231.60H559.60M559.60 231.60H788.40M788.40 231.60H1017.20M1017.20 231.60H1024.80" stroke-dasharray="7.2 4.2 2.4 4.28"/>
<path d="M102.20 298.00H330.95M330.95 298.00H559.60M559.60 298.00H788.40M788.40 298.00H1017.20M1017.20 298.00H1024.80" stroke-dasharray="7.2 4.2 2.4 4.28"/>
<path d="M102.20 363.25H330.95M330.95 363.25H559.60M559.60 363.25H788.40M788.40 363.25H1017.20M1017.20 363.25H1024.80" stroke-dasharray="7.2 4.2 2.4 4.28"/>
<path d="M102.20 429.40H330.95M330.95 429.40H559.60M559.60 429.40H788.40M788.40 429.40H1017.20M1017.20 429.40H1024.80" stroke-dasharray="7.2 4.2 2.4 4.28"/>
<path d="M102.20 495.35H330.95M330.95 495.35H559.60M559.60 495.35H788.40M788.40 495.35H1017.20M1017.20 495.35H1024.80" stroke-dasharray="7.2 4.2 2.4 4.28"/>
<path d="M102.20 561.02H330.95M330.95 561.02H559.60M559.60 561.02H788.40M788.40 561.02H1017.20M1017.20 561.02H1024.80" stroke-dasharray="7.2 4.2 2.4 4.28"/>
<path d="M102.20 627.00H330.95M330.95 627.00H559.60M559.60 627.00H788.40M788.40 627.00H1017.20M1017.20 627.00H1024.80" stroke-dasharray="7.2 4.2 2.4 4.28"/>
</g>
<g id="ticks" stroke="#333" stroke-width="1.4">
<line x1="102.7" y1="631" x2="102.7" y2="636.3"/><line x1="253.3" y1="631" x2="253.3" y2="636.3"/><line x1="403.9" y1="631" x2="403.9" y2="636.3"/><line x1="554.5" y1="631" x2="554.5" y2="636.3"/><line x1="705.1" y1="631" x2="705.1" y2="636.3"/><line x1="855.7" y1="631" x2="855.7" y2="636.3"/><line x1="1006.3" y1="631" x2="1006.3" y2="636.3"/><line x1="1023.8" y1="631" x2="1023.8" y2="636.3"/>
</g>
<g id="labels">
<text transform="translate(93.7 236.1) scale(0.95 1)" text-anchor="end">-2.85 m</text>
<text transform="translate(93.7 302.5) scale(0.95 1)" text-anchor="end">-2.90 m</text>
<text transform="translate(93.7 367.8) scale(0.95 1)" text-anchor="end">-2.95 m</text>
<text transform="translate(93.7 433.9) scale(0.95 1)" text-anchor="end">-3.00 m</text>
<text transform="translate(93.7 499.9) scale(0.95 1)" text-anchor="end">-3.05 m</text>
<text transform="translate(93.7 565.5) scale(0.95 1)" text-anchor="end">-3.10 m</text>
<text transform="translate(93.7 631.5) scale(0.95 1)" text-anchor="end">-3.15 m</text>
<text transform="translate(253.8 649.2) scale(0.95 1)" text-anchor="middle">2.5 m</text>
<text transform="translate(404.4 649.2) scale(0.95 1)" text-anchor="middle">5.0 m</text>
<text transform="translate(555.0 649.2) scale(0.95 1)" text-anchor="middle">7.5 m</text>
<text transform="translate(705.6 649.2) scale(0.95 1)" text-anchor="middle">10.0 m</text>
<text transform="translate(856.2 649.2) scale(0.95 1)" text-anchor="middle">12.5 m</text>
<text transform="translate(1024.3 649.2) scale(0.95 1)" text-anchor="end">15.29 m</text>
</g>
</svg>
</body></html>
